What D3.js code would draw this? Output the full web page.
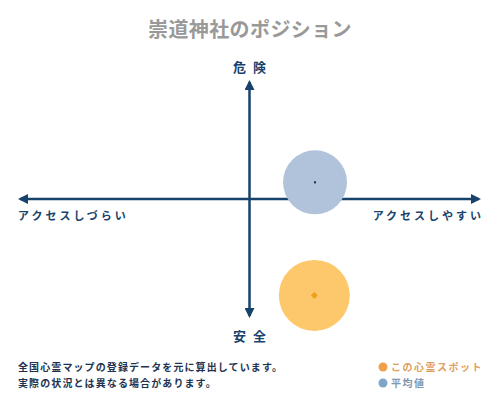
<!DOCTYPE html>
<html>
<head>
<meta charset="utf-8">
<script src="https://cdn.jsdelivr.net/npm/d3@7"></script>
<style>
  body { margin: 0; background: #fff; }
  svg { display: block; font-family: "Noto Sans CJK JP", sans-serif; }
</style>
</head>
<body>
<svg id="chart" width="500" height="400"></svg>
<script>
// values, axes run -1..1
const title = '崇道神社のポジション'
const seriesNames = ['この心霊スポット', '平均値']
const accessValues = [0.28, 0.283]   // x: しづらい(-) .. しやすい(+)
const dangerValues = [-0.81, 0.14]   // y: 安全(-) .. 危険(+)
const axisLabels = { top: '危 険', bottom: '安 全', left: 'アクセスしづらい', right: 'アクセスしやすい' }
const notes = ['全国心霊マップの登録データを元に算出しています。', '実際の状況とは異なる場合があります。']

const fills = ['#fdc86c', '#b0c3da']
const dots = ['#f0a020', '#1a2a40']
const legendDots = ['#f0a04a', '#7ea6c8']
const legendText = ['#e0a060', '#7f97b0']
const navy = '#17426c'
const radius = [35.5, 32]

const svg = d3.select('#chart')

const x = d3.scaleLinear().domain([-1, 1]).range([18, 481])
const y = d3.scaleLinear().domain([-1, 1]).range([318, 80])

svg.append('text')
  .attr('x', 250).attr('y', 37)
  .attr('text-anchor', 'middle')
  .attr('font-size', 20)
  .attr('font-weight', 'bold')
  .attr('letter-spacing', 0.4)
  .attr('fill', '#999')
  .text(title)

const defs = svg.append('defs')
defs.append('marker')
  .attr('id', 'arrow')
  .attr('viewBox', '0 0 10 10')
  .attr('refX', 8).attr('refY', 5)
  .attr('markerWidth', 4).attr('markerHeight', 4)
  .attr('orient', 'auto-start-reverse')
  .append('path')
  .attr('d', 'M0,0 L10,5 L0,10 Z')
  .attr('fill', navy)

const axes = svg.append('g')
  .attr('stroke', navy)
  .attr('stroke-width', 2.5)
axes.append('line')
  .attr('x1', x(-1) + 2).attr('x2', x(1) - 2)
  .attr('y1', y(0)).attr('y2', y(0))
  .attr('marker-start', 'url(#arrow)')
  .attr('marker-end', 'url(#arrow)')
axes.append('line')
  .attr('x1', x(0)).attr('x2', x(0))
  .attr('y1', y(1) + 2).attr('y2', y(-1) - 2)
  .attr('marker-start', 'url(#arrow)')
  .attr('marker-end', 'url(#arrow)')

const lab = svg.append('g')
  .attr('fill', navy)
  .attr('font-weight', 'bold')
lab.append('text')
  .attr('x', x(0) + 1).attr('y', y(1) - 8)
  .attr('text-anchor', 'middle')
  .attr('font-size', 13)
  .attr('letter-spacing', 2)
  .text(axisLabels.top)
lab.append('text')
  .attr('x', x(0) + 1).attr('y', y(-1) + 23)
  .attr('text-anchor', 'middle')
  .attr('font-size', 13)
  .attr('letter-spacing', 2)
  .text(axisLabels.bottom)
lab.append('text')
  .attr('x', x(-1)).attr('y', y(0) + 21)
  .attr('font-size', 11)
  .attr('letter-spacing', 3)
  .text(axisLabels.left)
lab.append('text')
  .attr('x', x(1) + 3).attr('y', y(0) + 21)
  .attr('text-anchor', 'end')
  .attr('font-size', 11)
  .attr('letter-spacing', 3)
  .text(axisLabels.right)

const pts = seriesNames.map((name, i) => ({ name, ax: accessValues[i], dg: dangerValues[i], i }))

svg.append('g').selectAll('circle')
  .data(pts)
  .join('circle')
  .attr('cx', d => x(d.ax))
  .attr('cy', d => y(d.dg))
  .attr('r', d => radius[d.i])
  .attr('fill', d => fills[d.i])

svg.append('g').selectAll('rect')
  .data(pts)
  .join('rect')
  .attr('x', d => x(d.ax) - (d.i === 0 ? 2.5 : 1))
  .attr('y', d => y(d.dg) - (d.i === 0 ? 2.5 : 1))
  .attr('width', d => (d.i === 0 ? 5 : 2))
  .attr('height', d => (d.i === 0 ? 5 : 2))
  .attr('transform', d => d.i === 0 ? `rotate(45 ${x(d.ax)} ${y(d.dg)})` : null)
  .attr('fill', d => dots[d.i])

svg.append('g')
  .attr('fill', '#1e3350')
  .attr('font-size', 10)
  .attr('font-weight', 'bold')
  .attr('letter-spacing', 1.1)
  .selectAll('text')
  .data(notes)
  .join('text')
  .attr('x', 18)
  .attr('y', (d, i) => 371 + i * 16)
  .text(d => d)

const legend = svg.append('g')
  .selectAll('g')
  .data(seriesNames)
  .join('g')
  .attr('transform', (d, i) => `translate(383, ${367 + i * 16})`)
legend.append('circle')
  .attr('r', 4.5)
  .attr('fill', (d, i) => legendDots[i])
legend.append('text')
  .attr('x', 8).attr('y', 4)
  .attr('font-size', 10)
  .attr('font-weight', 'bold')
  .attr('letter-spacing', 1.5)
  .attr('fill', (d, i) => legendText[i])
  .text(d => d)
</script>
</body>
</html>
